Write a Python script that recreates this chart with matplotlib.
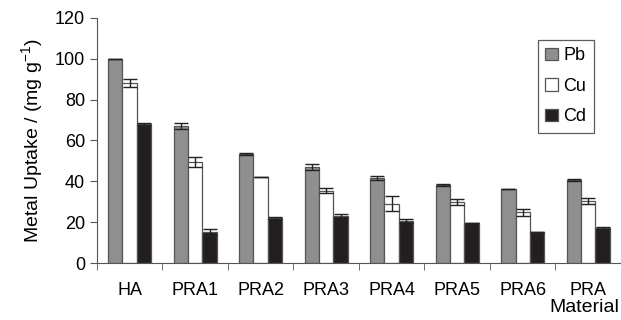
import matplotlib
matplotlib.use("Agg")
import matplotlib.pyplot as plt
import numpy as np

materials = ["HA", "PRA1", "PRA2", "PRA3", "PRA4", "PRA5", "PRA6", "PRA"]
metals = ["Pb", "Cu", "Cd"]
pb = [100, 67, 53.5, 47, 41.5, 38, 36.4, 40.7]
cu = [88, 49.5, 42, 35.5, 29, 29.7, 24.8, 30.4]
cd = [68, 15, 22, 23, 20.7, 19.4, 15.3, 17.3]
pb_err = [0, 1.5, 0.5, 1.5, 1.0, 0.5, 0, 0.5]
cu_err = [2.0, 2.5, 0, 1.0, 3.7, 1.5, 1.8, 1.5]
cd_err = [0.5, 1.5, 0.5, 1.0, 1.0, 0, 0, 0.5]

plt.rcParams["font.family"] = ["Liberation Sans", "DejaVu Sans"]

fig = plt.figure(figsize=(6.21, 3.2), dpi=100)
ax = fig.add_axes([0.156, 0.178, 0.844, 0.766])

x = np.arange(len(materials))
w = 0.22
series = [(pb, pb_err, "#8f8f8f"), (cu, cu_err, "white"), (cd, cd_err, "#231f20")]
for i, (vals, errs, col) in enumerate(series):
    ax.bar(x + (i - 1) * w, vals, w, color=col, edgecolor="#555555", lw=0.9,
           label=metals[i], yerr=errs, capsize=5,
           error_kw=dict(ecolor="#222222", elinewidth=1, capthick=1))

ax.set_xlim(-0.5, len(materials) - 0.5)
ax.set_ylim(0, 120)
ax.set_yticks(range(0, 121, 20))
ax.set_xticks(x)
ax.set_xticklabels(materials, fontsize=13)
ax.set_xticks(np.arange(-0.5, len(materials), 1), minor=True)
ax.tick_params(axis="x", which="major", length=0, pad=14)
ax.tick_params(axis="x", which="minor", length=5, color="#555555")
ax.tick_params(axis="y", length=5, labelsize=13, color="#555555")
for s in ["top", "right"]:
    ax.spines[s].set_visible(False)
for s in ["left", "bottom"]:
    ax.spines[s].set_color("#555555")

ax.set_ylabel("Metal Uptake / (mg g$^{\\mathregular{-1}}$)", fontsize=14, labelpad=6)
fig.text(0.997, 0.012, "Material", ha="right", va="bottom", fontsize=14)

leg = ax.legend(loc="upper right", bbox_to_anchor=(0.948, 0.91), fontsize=13,
                frameon=True, fancybox=False, handlelength=0.7, handleheight=0.7,
                handletextpad=0.3, labelspacing=0.75, borderpad=0.4, borderaxespad=0)
leg.get_frame().set_edgecolor("#333333")
leg.get_frame().set_linewidth(0.9)

fig.savefig("out.png", dpi=100)
